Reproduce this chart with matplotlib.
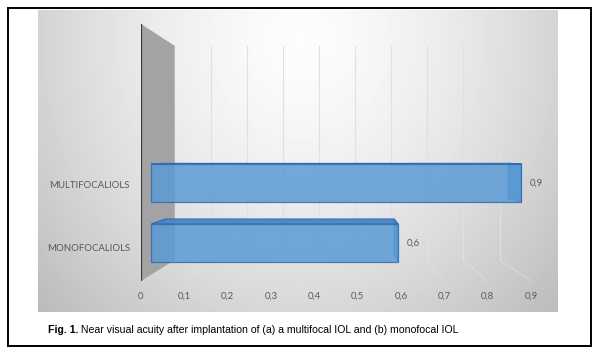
import numpy as np
import matplotlib
matplotlib.use("Agg")
import matplotlib.pyplot as plt
from matplotlib.patches import Polygon, Rectangle

# ---------------- data ----------------
categories = ["MONOFOCALIOLS", "MULTIFOCALIOLS"]
values = [0.6, 0.9]
value_labels = ["0,6", "0,9"]
xticks = [0.0, 0.1, 0.2, 0.3, 0.4, 0.5, 0.6, 0.7, 0.8, 0.9]
xtick_labels = ["0", "0,1", "0,2", "0,3", "0,4", "0,5", "0,6", "0,7", "0,8", "0,9"]
caption_bold = "Fig. 1."
caption_rest = " Near visual acuity after implantation of (a) a multifocal IOL and (b) monofocal IOL"

# ---------------- layout ----------------
W, H = 600, 355
fig = plt.figure(figsize=(W / 100, H / 100), dpi=100)
fig.patch.set_facecolor("white")

bg = fig.add_axes([0, 0, 1, 1], zorder=0)
bg.axis("off")

# chart area gradient
cx0, cx1, cy0, cy1 = 38, 558, 10, 312
xx, yy = np.meshgrid(np.arange(cx0, cx1) + 0.5, np.arange(cy0, cy1) + 0.5)
r = np.sqrt(((xx - 300) / 270.0) ** 2 + ((yy - 40) / 300.0) ** 2)
L = np.clip(0.99 - 0.17 * r ** 1.5, 0, 1)
bg.imshow(L, cmap="gray", vmin=0, vmax=1, extent=(cx0, cx1, cy1, cy0),
          aspect="auto", interpolation="bilinear")
bg.add_patch(Rectangle((8, 8), 583, 338, fill=False, ec="black", lw=1.4))
bg.set_xlim(0, W)
bg.set_ylim(H, 0)

# front plane axes
FX0, FX1, FYB, FYT = 141, 531, 281, 24
ax = fig.add_axes([FX0 / W, 1 - FYB / H, (FX1 - FX0) / W, (FYB - FYT) / H], zorder=1)
ax.patch.set_visible(False)
for s in ax.spines.values():
    s.set_visible(False)
y_floor, y_top = -0.527, 3.54
ax.set_xlim(0, 0.9)
ax.set_ylim(y_floor, y_top)

V_VP, Y_VP = 0.466, 1.467
S_BACK, S_BF, S_BB = 0.833, 0.949, 0.88
BAR_H = 0.633


def proj(v, y, s):
    return (V_VP + (v - V_VP) * s, Y_VP + (y - Y_VP) * s)


# side wall
wall = [proj(0, y_floor, 1), proj(0, y_top, 1), proj(0, y_top, S_BACK), proj(0, y_floor, S_BACK)]
ax.add_patch(Polygon(wall, closed=True, fc="#A3A3A3", ec="none", zorder=2))
ax.plot([0, 0], [y_floor, y_top], color="#3A3A3A", lw=1.6, zorder=3, solid_capstyle="butt")

# back grid lines and floor lines
for v in xticks[1:]:
    p0 = proj(v, y_floor, S_BACK)
    p1 = proj(v, y_top, S_BACK)
    ax.plot([p0[0], p1[0]], [p0[1], p1[1]], color="#E0E0E0", lw=0.8, zorder=1)
    f1 = proj(v, y_floor, 1)
    ax.plot([p0[0], f1[0]], [p0[1], f1[1]], color="#E4E4E4", lw=0.7, alpha=0.6, zorder=1)

# bars
for i, (v, lbl) in enumerate(zip(values, value_labels)):
    yb, yt = i - BAR_H / 2, i + BAR_H / 2
    top = [proj(0, yt, S_BF), proj(v, yt, S_BF), proj(v, yt, S_BB), proj(0, yt, S_BB)]
    end = [proj(v, yb, S_BF), proj(v, yt, S_BF), proj(v, yt, S_BB), proj(v, yb, S_BB)]
    ax.add_patch(Polygon(end, closed=True, fc="#4F8ACB", ec="#2F6BB3", lw=0.8, alpha=0.9, zorder=4))
    ax.add_patch(Polygon(top, closed=True, fc="#4A84C6", ec="#2F6BB3", lw=0.8, alpha=0.95, zorder=4))
    left, bot = proj(0, yb, S_BF)
    right, _ = proj(v, yb, S_BF)
    ax.barh(proj(0, i, S_BF)[1], right - left, left=left, height=BAR_H * S_BF,
            color="#5B9BD5", alpha=0.85, edgecolor="#2F6BB3", linewidth=0.9, zorder=5)
    ax.annotate(lbl, xy=(right, proj(0, i, S_BF)[1]), xytext=(6, 0), textcoords="offset points",
                ha="left", va="center", fontsize=6.9, family="Lato", color="#595959", zorder=6)

ax.set_xticks(xticks)
ax.set_xticklabels(xtick_labels, fontsize=6.9, family="Lato", color="#595959")
ax.set_yticks([0, 1])
ax.set_yticklabels(categories, fontsize=6.9, family="Lato", color="#595959")
ax.tick_params(axis="x", length=0, pad=8)
ax.tick_params(axis="y", length=0, pad=8)

# caption
t1 = bg.text(48, 330, caption_bold, fontsize=7.6, family="Liberation Sans",
             weight="bold", ha="left", va="center", color="black")
bg.annotate(caption_rest, xy=(1, 0), xycoords=t1, ha="left", va="bottom",
            fontsize=7.6, family="Liberation Sans", color="black")

fig.savefig("out.png", dpi=100)
